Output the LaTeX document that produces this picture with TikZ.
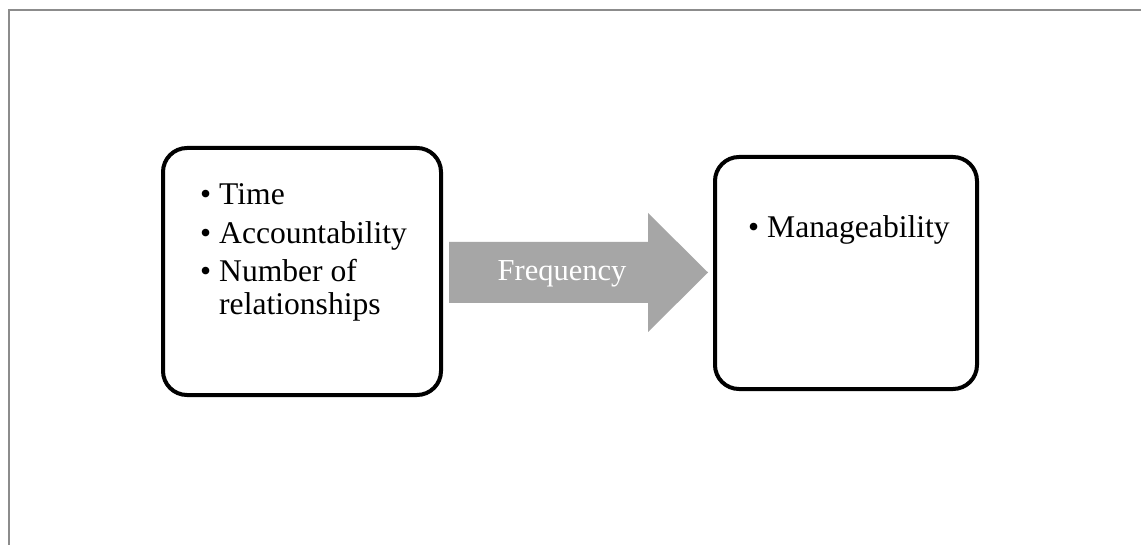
\documentclass[tikz,border=0pt]{standalone}
\usepackage{fontspec}
\setmainfont{Liberation Serif}
\newcommand\mybul{\makebox[19pt][l]{•}}
\begin{document}
\begin{tikzpicture}[x=1pt,y=-1pt,
  frameline/.style={draw=black!45, line width=1.5pt},
  roundbox/.style={draw=black, line width=4pt, rounded corners=24pt, fill=white, inner sep=0pt},
  itemtext/.style={anchor=base west, inner sep=0pt, font=\fontsize{31.6}{36}\selectfont},
  arrowfill/.style={fill=black!35},
  arrowtext/.style={anchor=base, inner sep=0pt, text=white, font=\fontsize{30.5}{34}\selectfont}]
\useasboundingbox (0,0) rectangle (1141,545);
\fill[white] (0,0) rectangle (1141,545);
\draw[frameline] (1141,10) -- (9,10) -- (9,545);
% boxes
\node[roundbox, minimum width=278pt, minimum height=247pt] (leftbox) at (302,271.5) {};
\node[roundbox, minimum width=262pt, minimum height=232pt] (rightbox) at (846,273) {};
% arrow
\coordinate (a1) at (449,242);
\coordinate (a2) at (648,242);
\coordinate (a3) at (648,213);
\coordinate (a4) at (708,272.5);
\coordinate (a5) at (648,332);
\coordinate (a6) at (648,303);
\coordinate (a7) at (449,303);
\fill[arrowfill] (a1) -- (a2) -- (a3) -- (a4) -- (a5) -- (a6) -- (a7) -- cycle;
\node[arrowtext] (freq) at (562,281) {Frequency};
% left texts
\node[itemtext] (t1) at (200,205) {\mybul Time};
\node[itemtext] (t2) at (200,243.3) {\mybul Accountability};
\node[itemtext] (t3) at (200,281.7) {\mybul Number of};
\node[itemtext] (t4) at (219,315) {relationships};
% right text
\node[itemtext] (r1) at (748,238) {\mybul Manageability};
\end{tikzpicture}
\end{document}
